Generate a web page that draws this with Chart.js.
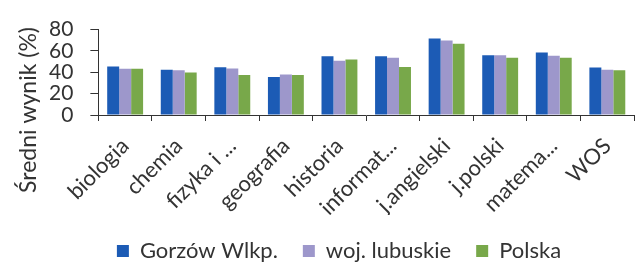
<!DOCTYPE html>
<html>
<head>
<meta charset="utf-8">
<script src="https://cdn.jsdelivr.net/npm/chart.js@4"></script>
<style>
  html, body { margin: 0; padding: 0; background: #fff; overflow: hidden; }
  #wrap { width: 638px; height: 266px; }
</style>
</head>
<body>
<div id="wrap"><canvas id="wyniki"></canvas></div>
<script>
// Dane
const subjects = ['biologia', 'chemia', 'fizyka i ...', 'geografia', 'historia', 'informat...', 'j.angielski', 'j.polski', 'matema...', 'WOS'];
const gorzow = [45.4, 42.4, 44.8, 35.5, 55.0, 55.0, 71.6, 56.0, 58.6, 44.5];
const lubuskie = [43.4, 42.0, 43.5, 37.9, 50.9, 53.6, 69.8, 56.0, 55.5, 42.4];
const polska = [43.4, 39.9, 37.4, 37.4, 52.0, 45.0, 66.8, 53.6, 53.6, 41.9];
const yTicks = [0, 20, 40, 60, 80];
const yTitle = 'Średni wynik (%)';

const font = "Lato, 'Open Sans', sans-serif";

// tytuł osi Y rysowany ręcznie, bo jest dłuższy niż sama oś
const yTitlePlugin = {
    id: 'yTitle',
    afterDraw(chart) {
        const ctx = chart.ctx;
        ctx.save();
        ctx.translate(29, 110);
        ctx.rotate(-Math.PI / 2);
        ctx.font = '23px ' + font;
        ctx.fillStyle = '#333';
        ctx.textAlign = 'center';
        ctx.textBaseline = 'middle';
        ctx.fillText(yTitle, 0, 0);
        ctx.restore();
    }
};

const config = {
    type: 'bar',
    data: {
        labels: subjects,
        datasets: [
            { label: 'Gorzów Wlkp.', data: gorzow, backgroundColor: '#1c5bb5' },
            { label: 'woj. lubuskie', data: lubuskie, backgroundColor: '#9d97cb' },
            { label: 'Polska', data: polska, backgroundColor: '#78a84a' }
        ]
    },
    options: {
        responsive: true,
        maintainAspectRatio: false,
        animation: false,
        datasets: {
            bar: { categoryPercentage: 0.67, barPercentage: 1.0 }
        },
        layout: { padding: { top: -10, right: -8, left: 32, bottom: -6 } },
        plugins: {
            tooltip: { enabled: false },
            legend: {
                position: 'bottom',
                labels: {
                    color: '#333',
                    font: { family: font, size: 22 },
                    boxWidth: 12,
                    boxHeight: 12,
                    padding: 25
                }
            }
        },
        scales: {
            x: {
                afterFit: function(axis) { axis.height = 100; },
                grid: { display: true, offset: true, drawOnChartArea: false, color: '#333', tickLength: 6 },
                border: { color: '#333' },
                ticks: {
                    color: '#333',
                    font: { family: font, size: 22 },
                    maxRotation: 45,
                    minRotation: 45,
                    autoSkip: false,
                    padding: 12
                }
            },
            y: {
                min: 0,
                max: 80,
                afterBuildTicks: function(axis) {
                    axis.ticks = yTicks.map(v => ({ value: v }));
                },
                grid: { display: true, drawOnChartArea: false, color: '#333', tickLength: 8 },
                border: { color: '#333' },
                ticks: {
                    color: '#333',
                    font: { family: font, size: 21 },
                    padding: 17,
                    autoSkip: false
                }
            }
        }
    },
    plugins: [yTitlePlugin]
};

const canvas = document.getElementById('wyniki');
var chart = new Chart(canvas, config);
</script>
</body>
</html>
